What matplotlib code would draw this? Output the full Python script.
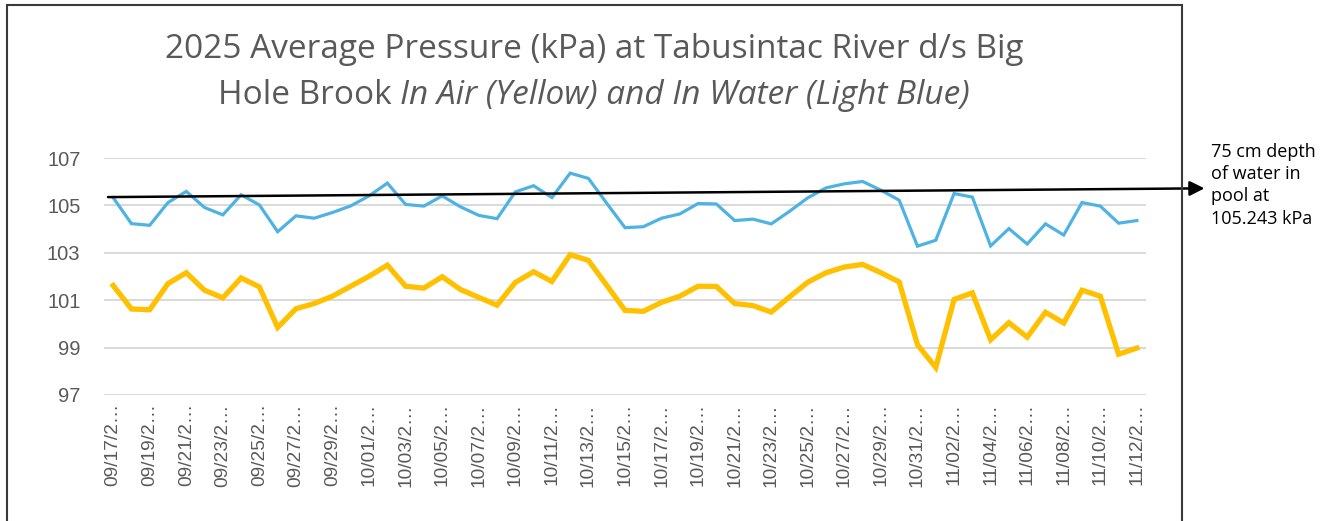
import matplotlib
matplotlib.use("Agg")
import matplotlib.pyplot as plt
import matplotlib.patches as patches
import pandas as pd

# daily averages, 2025-09-17 .. 2025-11-12
dates = pd.date_range("2025-09-17", "2025-11-12", freq="D")

water_kpa = [105.33, 104.23, 104.16, 105.12, 105.59, 104.91, 104.60, 105.45, 105.02, 103.89,
             104.56, 104.46, 104.70, 104.98, 105.40, 105.94, 105.04, 104.97, 105.40, 104.94,
             104.58, 104.44, 105.57, 105.83, 105.33, 106.36, 106.14, 105.09, 104.06, 104.10,
             104.46, 104.64, 105.08, 105.06, 104.36, 104.42, 104.22, 104.75, 105.32, 105.74,
             105.91, 106.01, 105.64, 105.22, 103.28, 103.53, 105.50, 105.35, 103.29, 104.02,
             103.37, 104.22, 103.75, 105.12, 104.97, 104.25, 104.36]

air_kpa = [101.62, 100.63, 100.60, 101.70, 102.16, 101.42, 101.10, 101.94, 101.56, 99.85,
           100.64, 100.86, 101.17, 101.59, 102.01, 102.48, 101.59, 101.51, 101.99, 101.45,
           101.12, 100.79, 101.75, 102.20, 101.79, 102.92, 102.68, 101.63, 100.57, 100.53,
           100.91, 101.17, 101.59, 101.58, 100.86, 100.77, 100.50, 101.14, 101.76, 102.16,
           102.40, 102.51, 102.16, 101.77, 99.12, 98.16, 101.03, 101.31, 99.33, 100.05,
           99.44, 100.49, 100.04, 101.42, 101.17, 98.72, 98.98]

# hand-drawn reference line (start / arrow tip)
ref_x = [-0.28, 59.7]
ref_y = [105.35, 105.72]

yticks = [97, 99, 101, 103, 105, 107]
labels = [d.strftime("%m/%d/2") + "\u2026" for d in dates]

gray = "#595959"

fig = plt.figure(figsize=(13.33, 5.21), dpi=100)
ax = fig.add_axes([104 / 1333, 1 - 395 / 521, 1042 / 1333, 237 / 521])

x = list(range(len(dates)))
ax.plot(x, water_kpa, color="#4EB3E2", lw=2.3, solid_joinstyle="miter", zorder=3)
ax.plot(x, air_kpa, color="#FFC000", lw=3.8, solid_joinstyle="miter", zorder=3)

ax.set_xlim(-0.5, len(dates) - 0.5)
ax.set_ylim(97, 107)
ax.set_yticks(yticks)
ax.set_yticklabels([str(v) for v in yticks], fontsize=14.5, color=gray, family="Liberation Sans")
ax.set_xticks(x[::2])
ax.set_xticklabels(labels[::2], rotation=90, fontsize=13.8, color=gray, family="Liberation Sans")
ax.tick_params(axis="both", length=0)
ax.tick_params(axis="y", pad=17)
ax.tick_params(axis="x", pad=6)
ax.grid(axis="y", color="#d9d9d9", lw=1.4)
ax.set_axisbelow(True)
for s in ax.spines.values():
    s.set_visible(False)

ax.annotate("", xy=(ref_x[1], ref_y[1]), xytext=(ref_x[0], ref_y[0]),
            xycoords="data", annotation_clip=False,
            arrowprops=dict(arrowstyle="-|>", color="black", lw=1.8,
                            mutation_scale=22, shrinkA=0, shrinkB=0), zorder=4)

fig.text(1211 / 1333, 1 - 143 / 521, "75 cm depth\nof water in\npool at\n105.243 kPa",
         fontsize=13, family="Open Sans", color="black", va="top", ha="left",
         linespacing=1.3)

# title, second half in italics
fig.text(594 / 1333, 1 - 49 / 521, "2025 Average Pressure (kPa) at Tabusintac River d/s Big",
         fontsize=24, family="Open Sans", color=gray, ha="center", va="center")
t1 = fig.text(0, 1 - 96 / 521, "Hole Brook ", fontsize=24, family="Open Sans",
              color=gray, ha="left", va="center")
t2 = fig.text(0, 1 - 96 / 521, "In Air (Yellow) and In Water (Light Blue)", fontsize=24,
              family="Open Sans", style="italic", color=gray, ha="left", va="center")
r = fig.canvas.get_renderer()
w1 = t1.get_window_extent(r).width
w2 = t2.get_window_extent(r).width
start = 594 - (w1 + w2) / 2
t1.set_x(start / 1333)
t2.set_x((start + w1) / 1333)

# chart border
fig.add_artist(patches.Rectangle((7 / 1333, -0.2), 1175 / 1333, 1.2 - 5 / 521,
                                 transform=fig.transFigure, fill=False,
                                 edgecolor="#3a3a3a", lw=1.5))

fig.savefig("out.png", dpi=100)
plt.close(fig)
